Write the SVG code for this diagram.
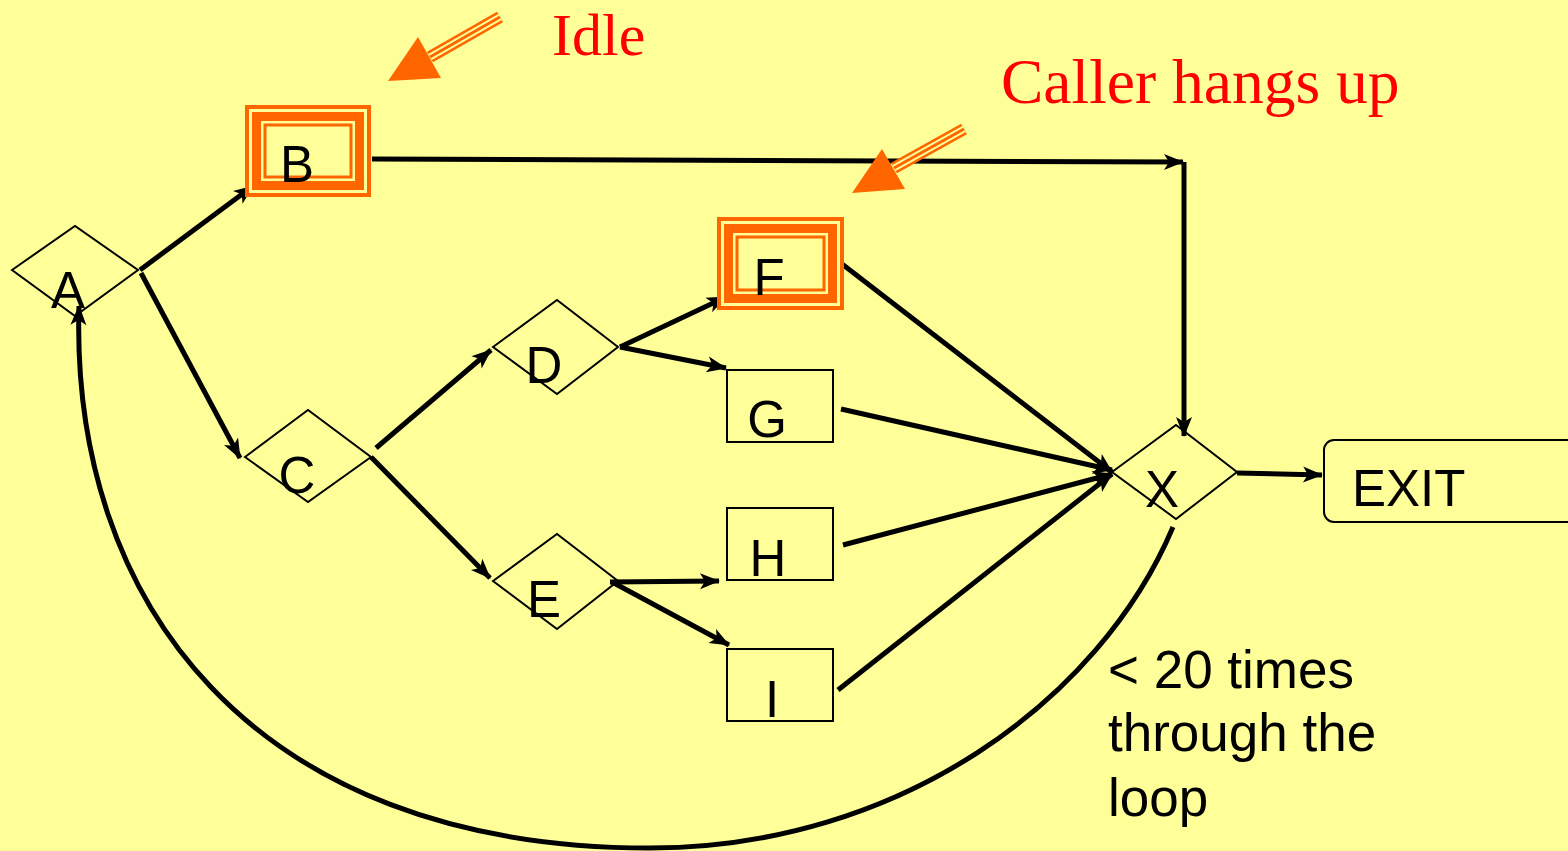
<svg xmlns="http://www.w3.org/2000/svg" width="1568" height="851" viewBox="0 0 1568 851">
<defs>
<style>
.bg{fill:#FFFF99}
.dia{fill:none;stroke:#000;stroke-width:2}
.box{fill:none;stroke:#000;stroke-width:2}
.lbl{font-family:"Liberation Sans",Arial,sans-serif;font-size:51px;fill:#000;text-anchor:middle}
.note{font-family:"Liberation Sans",Arial,sans-serif;font-size:53px;fill:#000}
.red{font-family:"Liberation Serif","Times New Roman",serif;fill:#FF0000}
.con{fill:none;stroke:#000;stroke-width:5}
.or{fill:#FF6600}
.ye{fill:#FFFF99}
</style>
<marker id="ah" markerUnits="strokeWidth" viewBox="0 0 20 16" refX="19" refY="8" markerWidth="4" markerHeight="3.2" orient="auto" overflow="visible">
<path d="M0,0 L20,8 L0,16 L5,8 z" fill="#000"/>
</marker>
</defs>
<rect class="bg" x="0" y="0" width="1568" height="851"/>

<g id="connectors">
<path class="con" d="M140,270 L253,186" marker-end="url(#ah)"/>
<path class="con" d="M141,273 L240,458" marker-end="url(#ah)"/>
<path class="con" d="M376,448 L491,350" marker-end="url(#ah)"/>
<path class="con" d="M371,457 L490,578" marker-end="url(#ah)"/>
<path class="con" d="M620,347 L726,297" marker-end="url(#ah)"/>
<path class="con" d="M620,347 L726,368" marker-end="url(#ah)"/>
<path class="con" d="M610,582 L719,581" marker-end="url(#ah)"/>
<path class="con" d="M612,582 L729,645" marker-end="url(#ah)"/>
<path class="con" d="M372,159 L1183,162" marker-end="url(#ah)"/>
<path class="con" d="M1184,162 L1184,436" marker-end="url(#ah)"/>
<path class="con" d="M842,264 L1112,472" marker-end="url(#ah)"/>
<path class="con" d="M841,409 L1112,470" marker-end="url(#ah)"/>
<path class="con" d="M843,545 L1112,474" marker-end="url(#ah)"/>
<path class="con" d="M838,690 L1112,474" marker-end="url(#ah)"/>
<path class="con" d="M1237,473 L1322,475" marker-end="url(#ah)"/>
<path class="con" d="M1173,527 C1100,700 900,848 650,848 C250,848 70,600 79,306" marker-end="url(#ah)"/>
</g>

<g id="node-A">
<polygon class="dia" points="12,270 75,226 138,270 75,316"/>
<text class="lbl" x="68" y="308">A</text>
</g>
<g id="node-B">
<rect class="or" x="245" y="105" width="126" height="92"/>
<rect class="ye" x="249" y="109" width="118" height="84"/>
<rect class="or" x="252" y="112" width="112" height="78"/>
<rect class="ye" x="261" y="121" width="94" height="60"/>
<rect class="or" x="263.5" y="123.5" width="89" height="55"/>
<rect class="ye" x="266.5" y="126.5" width="83" height="49"/>
<text class="lbl" x="297" y="182">B</text>
</g>
<g id="node-C">
<polygon class="dia" points="245,457 308,410 371,457 308,502"/>
<text class="lbl" x="297" y="493">C</text>
</g>
<g id="node-D">
<polygon class="dia" points="493,347 557,300 618,347 557,394"/>
<text class="lbl" x="544" y="383">D</text>
</g>
<g id="node-E">
<polygon class="dia" points="493,581 557,534 618,581 557,629"/>
<text class="lbl" x="544" y="617">E</text>
</g>
<g id="node-F">
<rect class="or" x="717" y="217" width="127" height="93"/>
<rect class="ye" x="721" y="221" width="119" height="85"/>
<rect class="or" x="724" y="224" width="113" height="79"/>
<rect class="ye" x="733" y="233" width="95" height="61"/>
<rect class="or" x="735.5" y="235.5" width="90" height="56"/>
<rect class="ye" x="738.5" y="238.5" width="84" height="50"/>
<text class="lbl" x="769" y="295">F</text>
</g>
<g id="node-G">
<rect class="box" x="727" y="370" width="106" height="72"/>
<text class="lbl" x="767" y="437">G</text>
</g>
<g id="node-H">
<rect class="box" x="727" y="508" width="106" height="72"/>
<text class="lbl" x="768" y="576">H</text>
</g>
<g id="node-I">
<rect class="box" x="727" y="649" width="106" height="72"/>
<text class="lbl" x="772" y="717">I</text>
</g>
<g id="node-X">
<polygon class="dia" points="1112,472 1176,425 1237,472 1176,519"/>
<text class="lbl" x="1162" y="507">X</text>
</g>
<g id="node-EXIT">
<rect class="box" x="1324" y="440" width="270" height="82" rx="10"/>
<text class="lbl" x="1352" y="506" style="text-anchor:start">EXIT</text>
</g>

<g id="callout-idle">
<line x1="430" y1="57" x2="500" y2="17" stroke="#FF6600" stroke-width="12"/>
<line x1="430" y1="57" x2="500" y2="17" stroke="#FFFF99" stroke-width="7"/>
<line x1="430" y1="57" x2="500" y2="17" stroke="#FF6600" stroke-width="3"/>
<polygon class="or" points="388,81 418,37 441,78"/>
<text class="red" x="552" y="55" font-size="60">Idle</text>
</g>
<g id="callout-hangup">
<line x1="894" y1="168" x2="964" y2="129" stroke="#FF6600" stroke-width="12"/>
<line x1="894" y1="168" x2="964" y2="129" stroke="#FFFF99" stroke-width="7"/>
<line x1="894" y1="168" x2="964" y2="129" stroke="#FF6600" stroke-width="3"/>
<polygon class="or" points="852,193 882,149 905,189"/>
<text class="red" x="1001" y="103" font-size="63.5">Caller hangs up</text>
</g>

<g id="loop-note">
<text class="note" x="1108" y="688">&lt; 20 times</text>
<text class="note" x="1108" y="751">through the</text>
<text class="note" x="1108" y="816">loop</text>
</g>
</svg>
